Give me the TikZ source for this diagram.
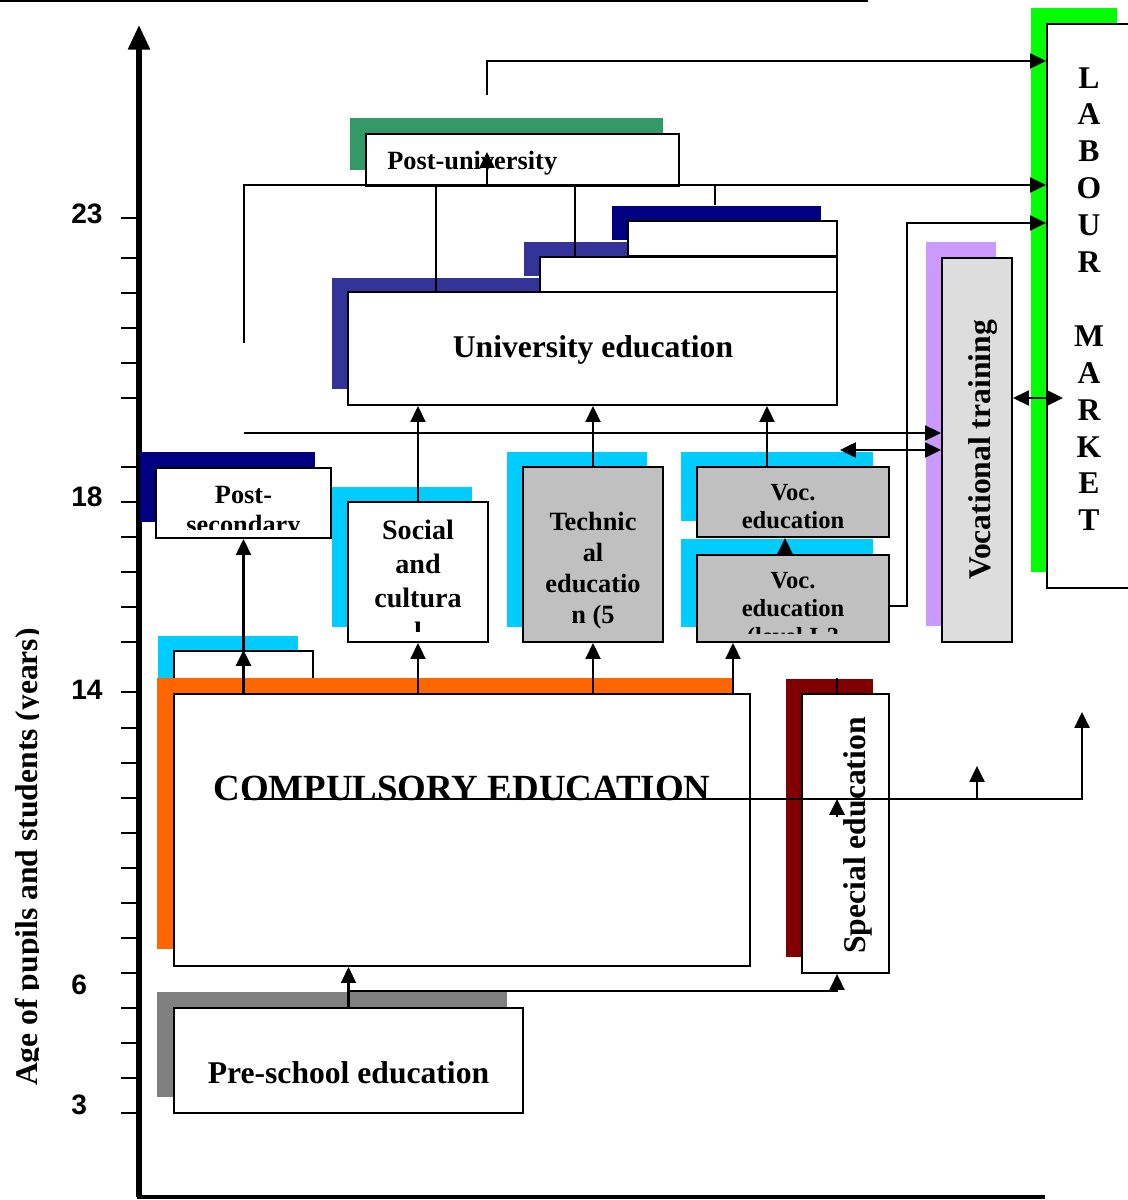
\documentclass[tikz,border=0pt]{standalone}
\usepackage{fontspec}
\setmainfont{Liberation Serif}
\newfontfamily\axisfont{Liberation Sans}
\usetikzlibrary{arrows.meta, positioning, fit, calc}
\definecolor{cyn}{HTML}{00CCFF}
\definecolor{org}{HTML}{FF6600}
\definecolor{grn}{HTML}{339966}
\definecolor{nvy}{HTML}{000080}
\definecolor{ind}{HTML}{333399}
\definecolor{mar}{HTML}{800000}
\definecolor{gry}{HTML}{808080}
\definecolor{lav}{HTML}{CC99FF}
\definecolor{lim}{HTML}{00FF00}
\definecolor{sil}{HTML}{C0C0C0}
\definecolor{lgr}{HTML}{DDDDDD}
\newcommand{\fsz}[2]{\fontsize{#1}{#2}\selectfont}
\tikzset{
  box/.style   = {rectangle, draw=black, line width=1.2pt, fill=white, inner sep=0pt},
  gbox/.style  = {box, fill=sil},
  txt/.style   = {inner sep=0pt, align=center, font=\bfseries},
  arr/.style   = {-{Triangle[length=9pt,width=8.5pt]}, line width=1.25pt},
  darr/.style  = {{Triangle[length=9pt,width=8.5pt]}-{Triangle[length=9pt,width=8.5pt]}, line width=1.25pt},
  ln/.style    = {line width=1.25pt},
  agetick/.style = {line width=1.1pt},
  agelbl/.style  = {inner sep=0pt, anchor=west, font=\axisfont\fsz{16}{19}\bfseries},
}

\begin{document}
\begin{tikzpicture}[x=0.02cm, y=-0.02cm]
  \useasboundingbox (0,0) rectangle (1127,1200);

  % age axis
  \draw[line width=1.2pt] (0,1) -- (868,1);
  \draw[line width=3pt, -{Triangle[length=14pt,width=12pt]}] (139,1197) -- (139,25);
  \draw[line width=2.2pt] (137,1197) -- (1045,1197);
  \foreach \t in {218,258,293,328,363,398,467,502,537,572,607,642,692,728,763,798,833,868,903,938,973,1008,1043,1078,1113}
    \draw[agetick] (121,\t) -- (137,\t);
  \node[agelbl] (a23) at (71,214)  {23};
  \node[agelbl] (a18) at (71,497)  {18};
  \node[agelbl] (a14) at (71,690)  {14};
  \node[agelbl] (a6)  at (71,985)  {6};
  \node[agelbl] (a3)  at (71,1105) {3};
  \begin{scope}
    \clip (0,0) rectangle (38,1200);
    \node[txt, font=\fsz{18}{21}\bfseries, rotate=90, anchor=base] (agettl) at (37,857) {Age of pupils and students (years)};
  \end{scope}

  % labour market
  \fill[lim] (1031,8) rectangle (1117,572);
  \node[box, fit={(1047,24) (1135,588)}] (lab) {};
  \node[txt, font=\fsz{18}{21}\bfseries, anchor=north] (labt) at (1089,67)
    {L\\A\\B\\O\\U\\R\\\mbox{}\\M\\A\\R\\K\\E\\T};

  % post-university
  \fill[grn] (350,118) rectangle (663,170);
  \node[box, fit={(366,134) (679,186)}] (pu) {};
  \node[txt, font=\fsz{15}{18}\bfseries, anchor=west] (put) at (387,163) {Post-university};

  % university and the two boxes above it
  \fill[ind] (332,278) rectangle (821,389);
  \node[box, fit={(348,292) (837,405)}] (uni) {};
  \fill[ind] (524,242) rectangle (821,276);
  \node[box, fit={(540,257) (837,292)}] (ubx) {};
  \fill[nvy] (612,206) rectangle (821,240);
  \node[box, fit={(628,221) (837,256)}] (utp) {};
  \node[txt, font=\fsz{18}{21}\bfseries] (unit) at (593,350) {University education};

  % post-secondary
  \fill[nvy] (140,452) rectangle (315,522);
  \node[box, fit={(156,468) (331,538)}] (pse) {};
  \begin{scope}
    \clip (pse.north west) rectangle ($(pse.south east)+(0,-10)$);
    \node[txt, font=\fsz{15}{17}\bfseries, anchor=north] (pset) at ($(pse.north)+(0,19)$) {Post-\\secondary};
  \end{scope}

  % social and cultural
  \fill[cyn] (332,487) rectangle (472,627);
  \node[box, fit={(348,502) (488,642)}] (soc) {};
  \begin{scope}
    \clip (soc.north west) rectangle ($(soc.south east)+(0,-12)$);
    \node[txt, font=\fsz{16}{19.3}\bfseries, anchor=north] (soct) at ($(soc.north)+(0,19)$) {Social\\and\\cultura\\l};
  \end{scope}

  % technical
  \fill[cyn] (507,452) rectangle (647,627);
  \node[gbox, fit={(523,467) (663,642)}] (tech) {};
  \node[txt, font=\fsz{15}{17.6}\bfseries, anchor=north] (techt) at ($(tech.north)+(0,46)$) {Technic\\al\\educatio\\n (5};

  % vocational education
  \fill[cyn] (681,452) rectangle (873,521);
  \node[gbox, fit={(697,467) (889,537)}] (vcu) {};
  \node[txt, font=\fsz{14}{16}\bfseries] (vcut) at ($(vcu.center)+(0,5)$) {Voc.\\education};
  \fill[cyn] (681,539) rectangle (873,627);
  \node[gbox, fit={(697,555) (889,642)}] (vcl) {};
  \begin{scope}
    \clip (vcl.north west) rectangle ($(vcl.south east)+(0,-10)$);
    \node[txt, font=\fsz{14}{16}\bfseries, anchor=north] (vclt) at ($(vcl.north)+(0,18)$) {Voc.\\education\\(level I-3};
  \end{scope}

  % vocational training
  \fill[lav] (926,242) rectangle (996,626);
  \node[box, fill=lgr, fit={(942,258) (1012,642)}] (vt) {};
  \node[txt, font=\fsz{18}{21}\bfseries, rotate=90] (vtt) at ($(vt.center)+(6,0)$) {Vocational training};

  % compulsory
  \fill[cyn] (158,636) rectangle (298,680);
  \node[box, fit={(174,651) (313,700)}] (smb) {};
  \fill[org] (157,678) rectangle (733,949);
  \node[box, fit={(174,694) (750,966)}] (comp) {};
  \node[txt, font=\fsz{21}{24}\bfseries] (compt) at (462,788) {COMPULSORY EDUCATION};

  % special education
  \fill[mar] (786,679) rectangle (873,957);
  \node[box, fit={(802,694) (889,973)}] (spe) {};
  \node[txt, font=\fsz{18}{21}\bfseries, rotate=90] (spet) at ($(spe.center)+(12,2)$) {Special education};

  % pre-school
  \fill[gry] (157,992) rectangle (507,1097);
  \node[box, fit={(174,1008) (523,1113)}] (pre) {};
  \node[txt, font=\fsz{18}{21}\bfseries] (pret) at ($(pre.center)+(0,12)$) {Pre-school education};

  % links to the labour market
  \coordinate (pu1) at (487,95);
  \coordinate (pu2) at (487,61);
  \draw[arr] (pu1) -- (pu2) -- (pu2 -| lab.west);
  \coordinate (ul1) at (244,343);
  \coordinate (ul2) at (244,185);
  \draw[arr] (ul1) -- (ul2) -- (ul2 -| lab.west);
  \coordinate (j1) at (436,185);
  \draw[ln] (j1) -- (j1 |- uni.north);
  \coordinate (j2) at (575,185);
  \draw[ln] (j2) -- (j2 |- ubx.north);
  \coordinate (j3) at (715,185);
  \draw[ln] (j3) -- ($(j3 |- utp.north)+(0,-15)$);
  \coordinate (j4) at (487,186);
  \draw[arr] (j4) -- ++(0,-34);

  % links to vocational training
  \coordinate (h1) at (244,433);
  \draw[arr] (h1) -- (h1 -| vt.west);
  \coordinate (h2) at (840,450);
  \draw[darr] (h2) -- (h2 -| vt.west);
  \coordinate (v1) at (907,606);
  \coordinate (v2) at (907,223);
  \draw[arr] (vcl.east |- v1) -- (v1) -- (v2) -- (v2 -| lab.west);
  \coordinate (v3) at (1063,398);
  \draw[darr] (vt.east |- v3) -- (v3);

  % into university
  \draw[arr] (soc.north) -- (soc.north |- uni.south);
  \draw[arr] (tech.north) -- (tech.north |- uni.south);
  \coordinate (k1) at ($(vcu.north)+(-26,0)$);
  \draw[arr] (k1) -- (k1 |- uni.south);

  % out of compulsory education
  \draw[arr] (comp.north -| pse.south) -- (smb.north -| pse.south);
  \draw[arr] (smb.north -| pse.south) -- (pse.south);
  \draw[arr] (comp.north -| soc.south) -- (soc.south);
  \draw[arr] (comp.north -| tech.south) -- (tech.south);
  \coordinate (k2) at ($(vcl.south)+(-60,0)$);
  \draw[arr] (k2 |- comp.north) -- (k2);
  \coordinate (k3) at ($(vcl.north)+(-8,0)$);
  \draw[arr] (k3) -- (k3 |- vcu.south);

  % line across compulsory and special education
  \coordinate (m1) at (244,799);
  \coordinate (m2) at (1082,712);
  \draw[arr] (m1) -| (m2);
  \coordinate (m3) at (977,799);
  \draw[arr] (m3) -- ++(0,-33);
  \coordinate (k4) at ($(spe.north)+(-8.5,0)$);
  \draw[ln] (k4) -- ++(0,-15);
  \draw[arr] ($(k4)+(0,124)$) -- ++(0,-18);

  % from pre-school
  \draw[arr] (pre.north) -- (pre.north |- comp.south);
  \coordinate (p1) at (348,991);
  \coordinate (k5) at ($(spe.south)+(-8.5,0)$);
  \draw[arr] (p1) -| (k5);

\end{tikzpicture}
\end{document}
